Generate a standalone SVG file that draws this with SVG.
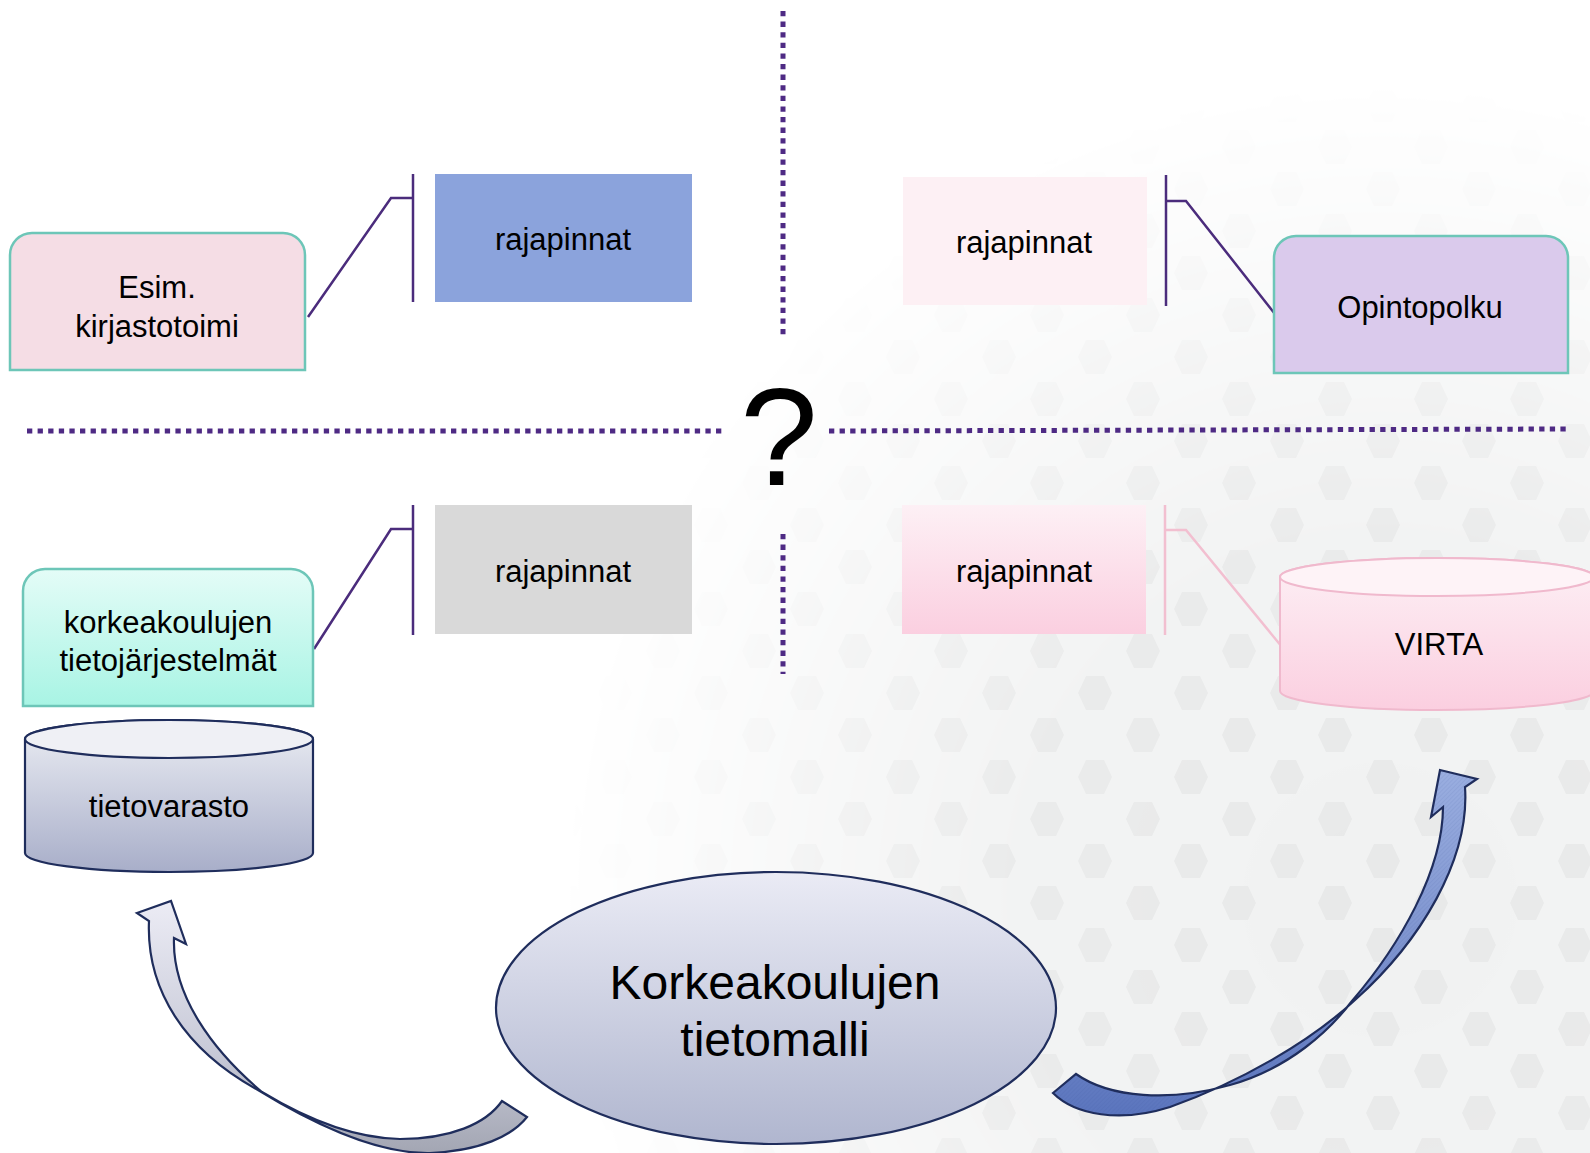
<svg xmlns="http://www.w3.org/2000/svg" width="1590" height="1153" viewBox="0 0 1590 1153">
  <defs>
    <style>
      .lbl { font-family: "Liberation Sans", Arial, sans-serif; font-size: 31px; fill: #000; text-anchor: middle; }
      .big { font-family: "Liberation Sans", Arial, sans-serif; font-size: 48px; fill: #000; text-anchor: middle; }
      .q { font-family: "Liberation Sans", Arial, sans-serif; font-size: 140px; fill: #000; text-anchor: middle; }
      .dots { stroke: #4e2a84; stroke-width: 5; stroke-dasharray: 5.3 5.3; fill: none; }
      .link { stroke: #4b2c7c; stroke-width: 2.5; fill: none; }
      .link-pink { stroke: #f2bfd0; stroke-width: 2.5; fill: none; }
      .tab { stroke: #6dc6b8; stroke-width: 2.5; }
      .navy { stroke: #1f2d5c; stroke-width: 2.2; }
    </style>

    <!-- soft honeycomb backdrop, faded in from the lower right -->
    <radialGradient id="bgFade" gradientUnits="userSpaceOnUse" cx="1380" cy="900" r="820">
      <stop offset="0" stop-color="#fff"/>
      <stop offset="0.45" stop-color="#fff" stop-opacity="0.9"/>
      <stop offset="0.8" stop-color="#555"/>
      <stop offset="1" stop-color="#000"/>
    </radialGradient>
    <mask id="bgMask" maskUnits="userSpaceOnUse" x="0" y="0" width="1590" height="1153">
      <rect width="1590" height="1153" fill="url(#bgFade)"/>
    </mask>
    <pattern id="hex" width="96" height="84" patternUnits="userSpaceOnUse">
      <polygon points="30,4 48,4 56,21 48,38 30,38 22,21" fill="#e8e9e9"/>
      <polygon points="78,46 96,46 104,63 96,80 78,80 70,63" fill="#e8e9e9"/>
      <polygon points="-18,46 0,46 8,63 0,80 -18,80 -26,63" fill="#e8e9e9"/>
    </pattern>

    <linearGradient id="gKorkea" x1="0" y1="0" x2="0" y2="1">
      <stop offset="0" stop-color="#e4fcf7"/>
      <stop offset="1" stop-color="#a8f4e4"/>
    </linearGradient>
    <linearGradient id="gVarasto" x1="0" y1="0" x2="0" y2="1">
      <stop offset="0" stop-color="#eceef4"/>
      <stop offset="1" stop-color="#a8aec9"/>
    </linearGradient>
    <linearGradient id="gPink" x1="0" y1="0" x2="0" y2="1">
      <stop offset="0" stop-color="#fdf0f5"/>
      <stop offset="1" stop-color="#fbcfe0"/>
    </linearGradient>
    <linearGradient id="gModel" x1="0" y1="0" x2="0" y2="1">
      <stop offset="0" stop-color="#eaebf5"/>
      <stop offset="1" stop-color="#b0b6cf"/>
    </linearGradient>
    <linearGradient id="gArrowL" gradientUnits="userSpaceOnUse" x1="0" y1="900" x2="0" y2="1153">
      <stop offset="0" stop-color="#ececf5"/>
      <stop offset="0.6" stop-color="#c8cad8"/>
      <stop offset="1" stop-color="#a3a6b3"/>
    </linearGradient>
    <linearGradient id="gArrowR" gradientUnits="userSpaceOnUse" x1="0" y1="770" x2="0" y2="1120">
      <stop offset="0" stop-color="#9aaee0"/>
      <stop offset="0.5" stop-color="#7e94cf"/>
      <stop offset="1" stop-color="#5a74bd"/>
    </linearGradient>
    <pattern id="hatch" width="3" height="3" patternUnits="userSpaceOnUse" patternTransform="rotate(45)">
      <line x1="0" y1="0" x2="0" y2="3" stroke="#2f4790" stroke-width="0.8"/>
    </pattern>
  </defs>

  <!-- backdrop -->
  <rect width="1590" height="1153" fill="#fff"/>
  <g mask="url(#bgMask)">
    <rect width="1590" height="1153" fill="#f1f2f2"/>
    <rect width="1590" height="1153" fill="url(#hex)"/>
  </g>

  <!-- quadrant dividers -->
  <g id="dividers">
    <line class="dots" x1="783" y1="11" x2="783" y2="335"/>
    <line class="dots" x1="783" y1="534" x2="783" y2="674"/>
    <line class="dots" x1="27" y1="431" x2="722" y2="431"/>
    <line class="dots" x1="829" y1="431" x2="1569" y2="429"/>
  </g>
  <text class="q" x="779" y="485">?</text>

  <!-- connectors between systems and their interfaces -->
  <g id="connectors">
    <path class="link" d="M308,317 L391,198 L413,198"/>
    <path class="link" d="M413,174 L413,302"/>
    <path class="link" d="M1166,175 L1166,306"/>
    <path class="link" d="M1166,201 L1186,201 L1275,314"/>
    <path class="link" d="M314,649 L391,529 L413,529"/>
    <path class="link" d="M413,505 L413,635"/>
    <path class="link-pink" d="M1165,505 L1165,635"/>
    <path class="link-pink" d="M1165,530 L1186,530 L1282,647"/>
  </g>

  <!-- interface blocks -->
  <g id="rajapinnat-1">
    <rect x="435" y="174" width="257" height="128" fill="#8ba3dc"/>
    <text class="lbl" x="563" y="250">rajapinnat</text>
  </g>
  <g id="rajapinnat-2">
    <rect x="903" y="177" width="244" height="128" fill="#fdf0f4"/>
    <text class="lbl" x="1024" y="253">rajapinnat</text>
  </g>
  <g id="rajapinnat-3">
    <rect x="435" y="505" width="257" height="129" fill="#d9d9d9"/>
    <text class="lbl" x="563" y="582">rajapinnat</text>
  </g>
  <g id="rajapinnat-4">
    <rect x="902" y="505" width="244" height="129" fill="url(#gPink)"/>
    <text class="lbl" x="1024" y="582">rajapinnat</text>
  </g>

  <!-- systems -->
  <g id="kirjastotoimi">
    <path class="tab" d="M10,370 L10,255 A22,22 0 0 1 32,233 L283,233 A22,22 0 0 1 305,255 L305,370 Z" fill="#f5dde5"/>
    <text class="lbl" x="157" y="298">Esim.</text>
    <text class="lbl" x="157" y="337">kirjastotoimi</text>
  </g>
  <g id="opintopolku">
    <path class="tab" d="M1274,373 L1274,258 A22,22 0 0 1 1296,236 L1546,236 A22,22 0 0 1 1568,258 L1568,373 Z" fill="#dacaec"/>
    <text class="lbl" x="1420" y="318">Opintopolku</text>
  </g>
  <g id="tietojarjestelmat">
    <path class="tab" d="M23,706 L23,591 A22,22 0 0 1 45,569 L291,569 A22,22 0 0 1 313,591 L313,706 Z" fill="url(#gKorkea)"/>
    <text class="lbl" x="168" y="633">korkeakoulujen</text>
    <text class="lbl" x="168" y="671">tietojärjestelmät</text>
  </g>

  <!-- data stores -->
  <g id="tietovarasto">
    <path class="navy" d="M25,739 L25,853 A144,19 0 0 0 313,853 L313,739 A144,19 0 0 0 25,739 Z" fill="url(#gVarasto)"/>
    <ellipse class="navy" cx="169" cy="739" rx="144" ry="19" fill="#eff0f5"/>
    <text class="lbl" x="169" y="817">tietovarasto</text>
  </g>
  <g id="virta">
    <path d="M1280,577 L1280,691 A157,19 0 0 0 1594,691 L1594,577 A157,19 0 0 0 1280,577 Z" fill="url(#gPink)" stroke="#f0b9cd" stroke-width="2"/>
    <ellipse cx="1437" cy="577" rx="157" ry="19" fill="#fef3f7" stroke="#f0b9cd" stroke-width="2"/>
    <text class="lbl" x="1439" y="655">VIRTA</text>
  </g>

  <!-- shared data model -->
  <g id="tietomalli">
    <ellipse class="navy" cx="776" cy="1008" rx="280" ry="136" fill="url(#gModel)"/>
    <text class="big" x="775" y="999">Korkeakoulujen</text>
    <text class="big" x="775" y="1056">tietomalli</text>
  </g>

  <!-- curved flow arrows out of the model -->
  <g id="arrows">
    <path id="arrow-left" class="navy" fill="url(#gArrowL)"
      d="M149,921 C146,990 185,1050 258,1090 C320,1128 380,1154 430,1153 C480,1151 512,1136 527,1117 L502,1101 C486,1124 450,1139 400,1139 C345,1138 295,1112 262,1092 C212,1050 172,995 174,938 L186,944 L171,901 L137,913 Z"/>
    <path id="arrow-right" class="navy" fill="url(#gArrowR)"
      d="M1053,1093 L1076,1074 C1110,1098 1170,1102 1230,1085 C1290,1068 1330,1030 1352,1001 C1400,945 1443,870 1443,807 L1431,817 L1440,770 L1477,779 L1465,787 C1470,860 1420,942 1355,1000 C1310,1042 1240,1082 1170,1107 C1120,1123 1075,1115 1053,1093 Z"/>
    <path d="M1053,1093 L1076,1074 C1110,1098 1170,1102 1230,1085 C1290,1068 1330,1030 1352,1001 C1400,945 1443,870 1443,807 L1431,817 L1440,770 L1477,779 L1465,787 C1470,860 1420,942 1355,1000 C1310,1042 1240,1082 1170,1107 C1120,1123 1075,1115 1053,1093 Z" fill="url(#hatch)" opacity="0.2"/>
  </g>
</svg>
